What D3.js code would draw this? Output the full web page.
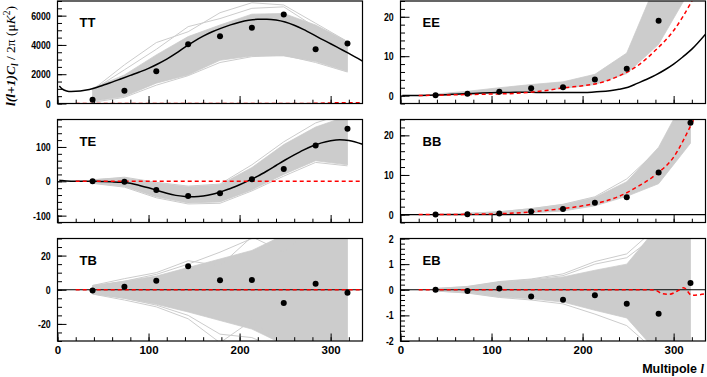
<!DOCTYPE html>
<html>
<head>
<meta charset="utf-8">
<script src="https://cdn.jsdelivr.net/npm/d3@7"></script>
<style>
body { margin: 0; background: #fff; }
svg { display: block; }
</style>
</head>
<body>
<svg id="chart" width="707" height="377"></svg>
<script>
// bin centres (multipole)
const bins = [38.5, 73.5, 108.5, 143.5, 178.5, 213.5, 248.5, 283.5, 318.5];

// observed band powers
const ttObs = [250, 865, 2205, 4045, 4590, 5180, 6070, 3705, 4090];
const teObs = [0, -1, -25, -43, -35, 6, 36, 104, 153];
const tbObs = [-0.4, 1.8, 5.3, 13.7, 5.5, 5.7, -7.8, 3.5, -1.8];
const eeObs = [0.1, 0.5, 1.0, 1.9, 2.1, 4.1, 6.8, 19.0];
const bbObs = [0, 0.1, 0.3, 0.8, 1.4, 3.0, 4.4, 10.6, 23.2];
const ebObs = [0, -0.05, 0.05, -0.26, -0.39, -0.21, -0.55, -0.94, 0.26];

// simulation spread (dense part) and a few stray simulations
const ttLo = [150, 480, 1390, 1950, 2950, 3250, 3250, 2870, 2180];
const ttHi = [1050, 1950, 3320, 4570, 5360, 6100, 6150, 5360, 4230];
const ttOut = [[930, 2640, 4160, 4900, 6200, 6880, 6730, 5480, 4230],
               [900, 2300, 3700, 5250, 5800, 6500, 6600, 5200, 4000],
               [80, 420, 1250, 1900, 2800, 3200, 3300, 2800, 2150]];
const teLo = [-5, -15, -45, -63, -60, -25, 20, 60, 48];
const teHi = [5, 10, -5, -16, -10, 40, 107, 158, 190];
const teOut = [[4, 12, -3, -14, -8, 48, 115, 170, 200],
               [-6, -17, -48, -66, -64, -28, 15, 55, 45]];
const tbLo = [-2.5, -5, -8.5, -13, -18, -23, -32, -34, -40];
const tbHi = [2.5, 5, 8, 13, 18, 23, 32, 34, 40];
const tbOut = [[2.5, 6.5, 10, 17, 14, 31, 22, 38, 40],
               [-2.5, -6, -10, -17, -31, -18, -33, -38, -40],
               [2, 5, 9, 15, 22, 30, 33, 36, 40],
               [-2, -5, -9, -15, -26, -28, -36, -40, -40]];
const eeLo = [0, 0.3, 0.7, 1.2, 1.8, 2.8, 5.6, 13, 27];
const eeHi = [0.4, 1.1, 2.0, 2.8, 3.5, 5.4, 10.8, 30, 60];
const bbLo = [0, 0, 0.1, 0.4, 0.9, 2.2, 4.6, 7.8, 18];
const bbHi = [0.1, 0.35, 0.7, 1.5, 2.5, 4.3, 8.3, 17, 32];
const bbOut = [[0.1, 0.3, 0.7, 1.5, 2.6, 4.5, 9.0, 16.5, 30]];
const ebLo = [-0.05, -0.12, -0.28, -0.35, -0.48, -0.8, -1.1, -2.5, -3];
const ebHi = [0.05, 0.12, 0.3, 0.38, 0.5, 0.76, 1.0, 2.5, 3];
const ebOut = [[0.05, 0.13, 0.32, 0.42, 0.62, 1.1, 1.4, 2.5, 3],
               [0.04, 0.1, 0.3, 0.4, 0.55, 1.0, 1.25, 2.2, 3],
               [-0.05, -0.13, -0.3, -0.4, -0.55, -0.95, -1.4, -2.5, -3]];

// best-fit theory (black)
const theoryEll = [2, 5, 10, 15, 20, 30, 40, 50, 60, 70, 80, 90, 100, 110, 120, 130, 140, 150, 160,
                   170, 180, 190, 200, 210, 220, 230, 240, 250, 260, 270, 280, 290, 300, 310, 320, 335];
const ttTheory = [1200, 1000, 860, 820, 830, 900, 1040, 1250, 1460, 1690, 1920, 2150, 2400, 2700, 3030, 3420, 3850, 4250, 4600,
                  4900, 5150, 5370, 5550, 5680, 5750, 5760, 5700, 5560, 5340, 5060, 4740, 4400, 4080, 3750, 3420, 2900];
const teTheory = [3, 2, 1, 0.5, 0.3, 0.2, 0, -0.5, -1.5, -3, -6, -12, -19, -27, -35, -41, -44, -45, -43,
                  -38, -30, -21, -10, 2, 15, 30, 46, 62, 77, 91, 103, 112, 118, 121, 119, 108];
const eeTheory = [0.05, 0.03, 0.02, 0.03, 0.05, 0.1, 0.17, 0.25, 0.35, 0.45, 0.55, 0.65, 0.72, 0.78, 0.82, 0.84, 0.84, 0.82, 0.8,
                  0.78, 0.77, 0.77, 0.8, 0.88, 1.02, 1.25, 1.6, 2.1, 3.1, 4.1, 5.2, 6.5, 8.0, 9.8, 11.8, 15.6];

// model (red dashed)
const redEll = [20, 40, 60, 80, 100, 120, 140, 160, 180, 200, 220, 240, 260, 280, 300, 320, 335];
const ttRed = [0, 0, 0, 0, 0, 0, 0, 0, 0, 0, 0, 0, 0, 10, 40, 50, 60];
const teRed = [0, 0, 0, 0, 0, 0, 0, 0, 0, 0, 0, 0, 0, 0, 0, 0, 0];
const tbRed = [0, 0, 0, 0, 0, 0, 0, 0, 0, 0, 0, 0, 0, 0, 0, 0, 0];
const eeRed = [0.02, 0.1, 0.2, 0.3, 0.4, 0.5, 0.8, 1.3, 2.0, 2.5, 3.3, 5.0, 7.5, 11.5, 16.5, 24, 31];
const bbRed = [0, 0.02, 0.04, 0.08, 0.17, 0.32, 0.62, 1.05, 1.55, 2.2, 3.1, 4.6, 7.0, 10.0, 14.5, 23, 30];
const ebRedEll = [20, 270, 280, 287, 295, 305, 311, 320, 327, 335];
const ebRed = [0, 0, -0.02, -0.15, -0.18, -0.03, 0.08, -0.22, -0.2, -0.16];

const GREY = "#cccccc";
const SANS = "'Liberation Sans', Arial, Helvetica, sans-serif";
const SERIF = "'Liberation Serif', 'Times New Roman', serif";

const svg = d3.select("#chart");
const cols = [[57.5, 362.5], [400.5, 705.5]];
const rows = [[1, 103.5], [119.5, 222.5], [238.5, 341]];
const xDomain = [0, 335];

const panels = [
    { name: "TT", col: 0, row: 0, domain: [0, 7000], major: 2000, minor: 500, obs: ttObs, lo: ttLo, hi: ttHi, out: ttOut,
      theory: ttTheory, redEll: redEll, red: ttRed, zero: false },
    { name: "EE", col: 1, row: 0, domain: [-2, 24], major: 10, minor: 2, obs: eeObs, lo: eeLo, hi: eeHi, out: [],
      theory: eeTheory, redEll: redEll, red: eeRed, zero: false },
    { name: "TE", col: 0, row: 1, domain: [-120, 180], major: 100, minor: 20, obs: teObs, lo: teLo, hi: teHi, out: teOut,
      theory: teTheory, redEll: redEll, red: teRed, zero: false },
    { name: "BB", col: 1, row: 1, domain: [-2, 24], major: 10, minor: 2, obs: bbObs, lo: bbLo, hi: bbHi, out: bbOut,
      theory: null, redEll: redEll, red: bbRed, zero: true },
    { name: "TB", col: 0, row: 2, domain: [-30, 30], major: 20, minor: 5, obs: tbObs, lo: tbLo, hi: tbHi, out: tbOut,
      theory: null, redEll: redEll, red: tbRed, zero: true },
    { name: "EB", col: 1, row: 2, domain: [-2, 2], major: 1, minor: 0.2, obs: ebObs, lo: ebLo, hi: ebHi, out: ebOut,
      theory: null, redEll: ebRedEll, red: ebRed, zero: true }
];

// tick positions between domain ends at a given step
function steps(d0, d1, step) {
    return d3.range(Math.ceil(d0 / step - 1e-9), Math.floor(d1 / step + 1e-9) + 1).map(i => +(i * step).toFixed(6));
}

const defs = svg.append("defs");

panels.forEach((p, i) => {
    const [x0, x1] = cols[p.col];
    const [y0, y1] = rows[p.row];
    const x = d3.scaleLinear().domain(xDomain).range([x0, x1]);
    const y = d3.scaleLinear().domain(p.domain).range([y1, y0]);

    defs.append("clipPath").attr("id", "clip" + i)
        .append("rect").attr("x", x0).attr("y", y0).attr("width", x1 - x0).attr("height", y1 - y0);

    const g = svg.append("g").attr("class", "panel");
    const plot = g.append("g").attr("clip-path", `url(#clip${i})`);

    // simulations
    const band = bins.map((l, k) => ({ l: l, lo: p.lo[k], hi: p.hi[k] }));
    plot.append("path").datum(band).attr("fill", GREY).attr("stroke", GREY).attr("stroke-width", 0.8)
        .attr("d", d3.area().x(d => x(d.l)).y0(d => y(d.lo)).y1(d => y(d.hi)));
    const simLine = d3.line().x((d, k) => x(bins[k])).y(d => y(d));
    p.out.forEach(o => {
        plot.append("path").datum(o).attr("fill", "none").attr("stroke", GREY).attr("stroke-width", 1).attr("d", simLine);
    });

    // black zero line
    if (p.zero) {
        plot.append("line").attr("x1", x0).attr("x2", x1).attr("y1", y(0)).attr("y2", y(0))
            .attr("stroke", "#000").attr("stroke-width", 1.2);
    }

    // theory curve
    if (p.theory) {
        plot.append("path").datum(theoryEll.map((l, k) => [l, p.theory[k]]))
            .attr("fill", "none").attr("stroke", "#000").attr("stroke-width", 1.5)
            .attr("d", d3.line().x(d => x(d[0])).y(d => y(d[1])).curve(d3.curveMonotoneX));
    }

    // red dashed model
    plot.append("path").datum(p.redEll.map((l, k) => [l, p.red[k]]))
        .attr("fill", "none").attr("stroke", "#ff0000").attr("stroke-width", 1.5).attr("stroke-dasharray", "4,3")
        .attr("d", d3.line().x(d => x(d[0])).y(d => y(d[1])).curve(d3.curveMonotoneX));

    // data points
    plot.selectAll("circle").data(p.obs).join("circle")
        .attr("cx", (d, k) => x(bins[k])).attr("cy", d => y(d)).attr("r", 3).attr("fill", "#000");

    // frame
    g.append("rect").attr("x", x0).attr("y", y0).attr("width", x1 - x0).attr("height", y1 - y0)
        .attr("fill", "none").attr("stroke", "#000").attr("stroke-width", 1.2);

    // x ticks (inside)
    const bottom = g.append("g").attr("transform", `translate(0,${y1})`);
    bottom.append("g").call(d3.axisBottom(x).tickValues(steps(0, 335, 20)).tickSize(-3.8).tickFormat(""));
    const xMajor = bottom.append("g").call(d3.axisBottom(x).tickValues([0, 100, 200, 300]).tickSize(-7.5).tickPadding(5)
        .tickFormat(p.row === 2 ? (d => String(d)) : ""));
    bottom.selectAll(".domain").remove();
    bottom.selectAll("line").attr("stroke", "#000").attr("stroke-width", 1);
    xMajor.selectAll("text").attr("font-family", SANS).attr("font-weight", "bold").attr("font-size", 11.5).attr("fill", "#000");

    // y ticks (inside)
    const left = g.append("g").attr("transform", `translate(${x0},0)`);
    left.append("g").call(d3.axisLeft(y).tickValues(steps(p.domain[0], p.domain[1], p.minor)).tickSize(-4.5).tickFormat(""));
    const yMajor = left.append("g").call(d3.axisLeft(y).tickValues(steps(p.domain[0], p.domain[1], p.major)).tickSize(-9)
        .tickFormat(d => String(d)));
    left.selectAll(".domain").remove();
    left.selectAll("line").attr("stroke", "#000").attr("stroke-width", 1);
    yMajor.selectAll("text").attr("x", -8.5).attr("transform", "scale(0.8,1)")
        .attr("font-family", SANS).attr("font-weight", "bold").attr("font-size", 11).attr("fill", "#000");

    // panel name
    g.append("text").attr("x", x0 + 22).attr("y", y0 + 26)
        .attr("font-family", SANS).attr("font-weight", "bold").attr("font-size", 13).text(p.name);
});

// y axis title
const yTitle = svg.append("text").attr("transform", "translate(15,56) rotate(-90)")
    .attr("text-anchor", "middle").attr("font-family", SERIF).attr("font-size", 13.5).attr("fill", "#000");
yTitle.append("tspan").attr("font-style", "italic").attr("font-weight", "bold").text("l(l+1)C");
yTitle.append("tspan").attr("font-style", "italic").attr("font-weight", "bold").attr("font-size", 9.5).attr("dy", 3).text("l");
yTitle.append("tspan").attr("dy", -3).text(" / 2\u03c0  (\u03bc");
yTitle.append("tspan").attr("font-style", "italic").text("K");
yTitle.append("tspan").attr("font-size", 9.5).attr("dy", -5).text("2");
yTitle.append("tspan").attr("dy", 5).text(")");

// x axis title
const xTitle = svg.append("text").attr("x", 704).attr("y", 373).attr("text-anchor", "end")
    .attr("font-family", SANS).attr("font-weight", "bold").attr("font-size", 12.5).attr("fill", "#000");
xTitle.append("tspan").text("Multipole  ");
xTitle.append("tspan").attr("font-family", SERIF).attr("font-style", "italic").text("l");
</script>
</body>
</html>
